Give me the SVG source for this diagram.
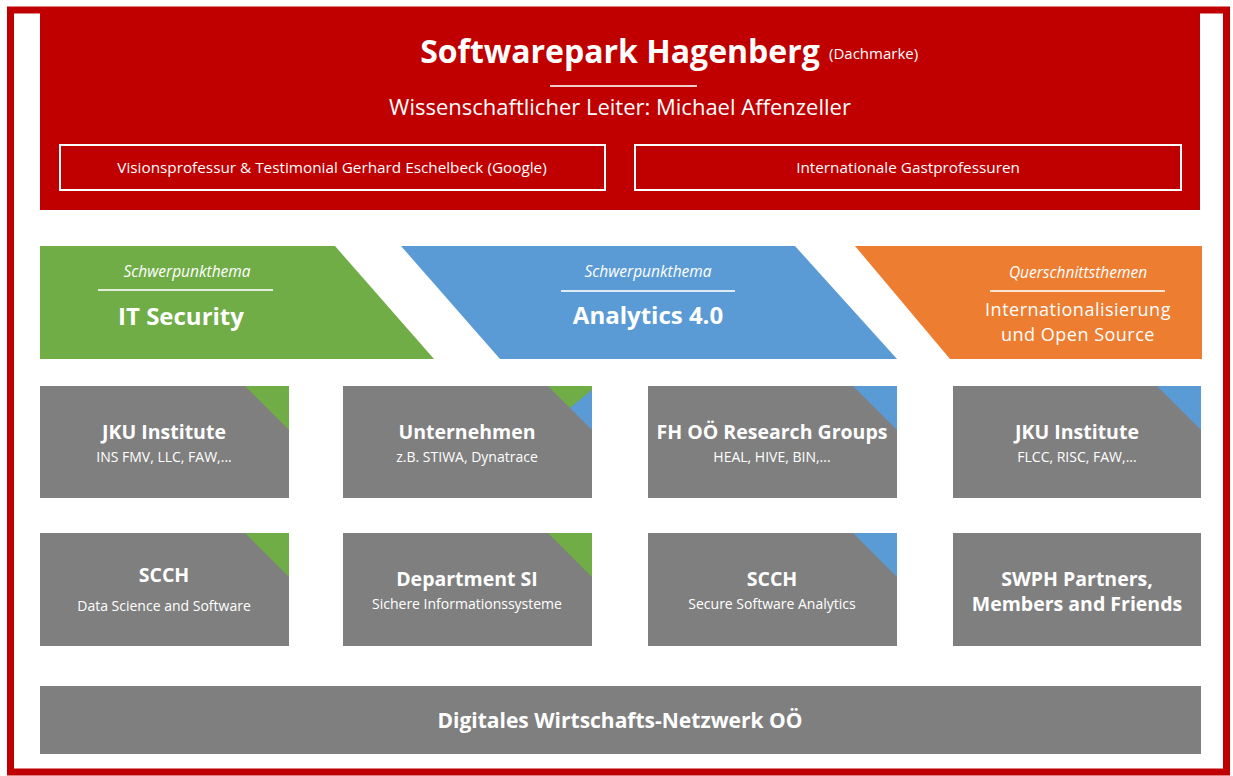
<svg xmlns="http://www.w3.org/2000/svg" width="1233" height="776" viewBox="0 0 1233 776">
<style>
text{font-family:"Open Sans","Liberation Sans",sans-serif;text-anchor:middle;fill:#ffffff}
.b{font-weight:bold}
.i{font-style:italic}
.gray{fill:#7f7f7f}
.hl{stroke:#ffffff;stroke-width:2;opacity:.8}
.box{fill:none;stroke:#ffffff;stroke-width:2}
.g{fill:#70ad47}.bl{fill:#5b9bd5}.o{fill:#ed7d31}
</style>
<rect x="0" y="0" width="1233" height="776" fill="#ffffff"/>
<rect x="10.5" y="10" width="1216" height="762" fill="none" stroke="#c00000" stroke-width="7"/>
<g id="header">
<rect x="40" y="8" width="1160" height="202" fill="#c00000"/>
<text x="620" y="63" class="b" font-size="32">Softwarepark Hagenberg</text>
<text x="829" y="59" font-size="15" style="text-anchor:start">(Dachmarke)</text>
<line x1="550" y1="86" x2="697" y2="86" class="hl"/>
<text x="620" y="115" font-size="22">Wissenschaftlicher  Leiter: Michael Affenzeller</text>
</g>
<g id="visionsprofessur">
<rect x="60" y="145" width="545" height="45" class="box"/>
<text x="332" y="173" font-size="15.3">Visionsprofessur &amp; Testimonial Gerhard Eschelbeck (Google)</text>
</g>
<g id="gastprofessuren">
<rect x="635" y="145" width="546" height="45" class="box"/>
<text x="908" y="173" font-size="15.3">Internationale Gastprofessuren</text>
</g>
<g id="it-security">
<polygon points="40,246 335,246 434,359 40,359" class="g"/>
<text x="187" y="277" class="i" font-size="15.5" fill="#eaf4e4">Schwerpunkthema</text>
<line x1="98" y1="290" x2="273" y2="290" class="hl"/>
<text x="181" y="325" class="b" font-size="24">IT Security</text>
</g>
<g id="analytics">
<polygon points="401,246 795,246 897,359 500,359" class="bl"/>
<text x="648" y="277" class="i" font-size="15.5">Schwerpunkthema</text>
<line x1="561" y1="291" x2="735" y2="291" class="hl"/>
<text x="648" y="324" class="b" font-size="24">Analytics 4.0</text>
</g>
<g id="querschnitt">
<polygon points="855,246 1202,246 1202,359 950,359" class="o"/>
<text x="1078" y="278" class="i" font-size="15.5" fill="#fde9dc">Querschnittsthemen</text>
<line x1="990" y1="291" x2="1165" y2="291" class="hl"/>
<text x="1078" y="316" font-size="18" letter-spacing="0.5" fill="#fde9dc">Internationalisierung</text>
<text x="1078" y="341" font-size="18" letter-spacing="0.5" fill="#fde9dc">und Open Source</text>
</g>
<g id="jku1">
<rect x="40" y="386" width="249" height="112" class="gray"/>
<polygon points="245,386 289,386 289,430" class="g"/>
<text x="164" y="439" class="b" font-size="19.5">JKU Institute</text>
<text x="164" y="462" font-size="14">INS FMV, LLC, FAW,...</text>
</g>
<g id="unternehmen">
<rect x="343" y="386" width="249" height="112" class="gray"/>
<polygon points="548,386 592,386 592,390 570,408" class="g"/>
<polygon points="592,390 592,430 570,408" class="bl"/>
<text x="467" y="439" class="b" font-size="19.5">Unternehmen</text>
<text x="467" y="462" font-size="14">z.B. STIWA, Dynatrace</text>
</g>
<g id="fhooe">
<rect x="648" y="386" width="249" height="112" class="gray"/>
<polygon points="853,386 897,386 897,430" class="bl"/>
<text x="772" y="439" class="b" font-size="19.5">FH OÖ Research Groups</text>
<text x="772" y="462" font-size="14">HEAL, HIVE, BIN,...</text>
</g>
<g id="jku2">
<rect x="953" y="386" width="248" height="112" class="gray"/>
<polygon points="1157,386 1201,386 1201,430" class="bl"/>
<text x="1077" y="439" class="b" font-size="19.5">JKU Institute</text>
<text x="1077" y="462" font-size="14">FLCC, RISC, FAW,...</text>
</g>
<g id="scch1">
<rect x="40" y="533" width="249" height="113" class="gray"/>
<polygon points="245,533 289,533 289,577" class="g"/>
<text x="164" y="582" class="b" font-size="19.5">SCCH</text>
<text x="164" y="611" font-size="14">Data Science and Software</text>
</g>
<g id="department-si">
<rect x="343" y="533" width="249" height="113" class="gray"/>
<polygon points="548,533 592,533 592,577" class="g"/>
<text x="467" y="586" class="b" font-size="19.5">Department SI</text>
<text x="467" y="609" font-size="14">Sichere Informationssysteme</text>
</g>
<g id="scch2">
<rect x="648" y="533" width="249" height="113" class="gray"/>
<polygon points="853,533 897,533 897,577" class="bl"/>
<text x="772" y="586" class="b" font-size="19.5">SCCH</text>
<text x="772" y="609" font-size="14">Secure Software Analytics</text>
</g>
<g id="swph">
<rect x="953" y="533" width="248" height="113" class="gray"/>
<text x="1077" y="586" class="b" font-size="19.5">SWPH Partners,</text>
<text x="1077" y="611" class="b" font-size="19.5">Members and Friends</text>
</g>
<g id="dwn">
<rect x="40" y="686" width="1161" height="68" class="gray"/>
<text x="620" y="728" class="b" font-size="21">Digitales  Wirtschafts-Netzwerk  OÖ</text>
</g>
<g id="connectors"></g>
</svg>
